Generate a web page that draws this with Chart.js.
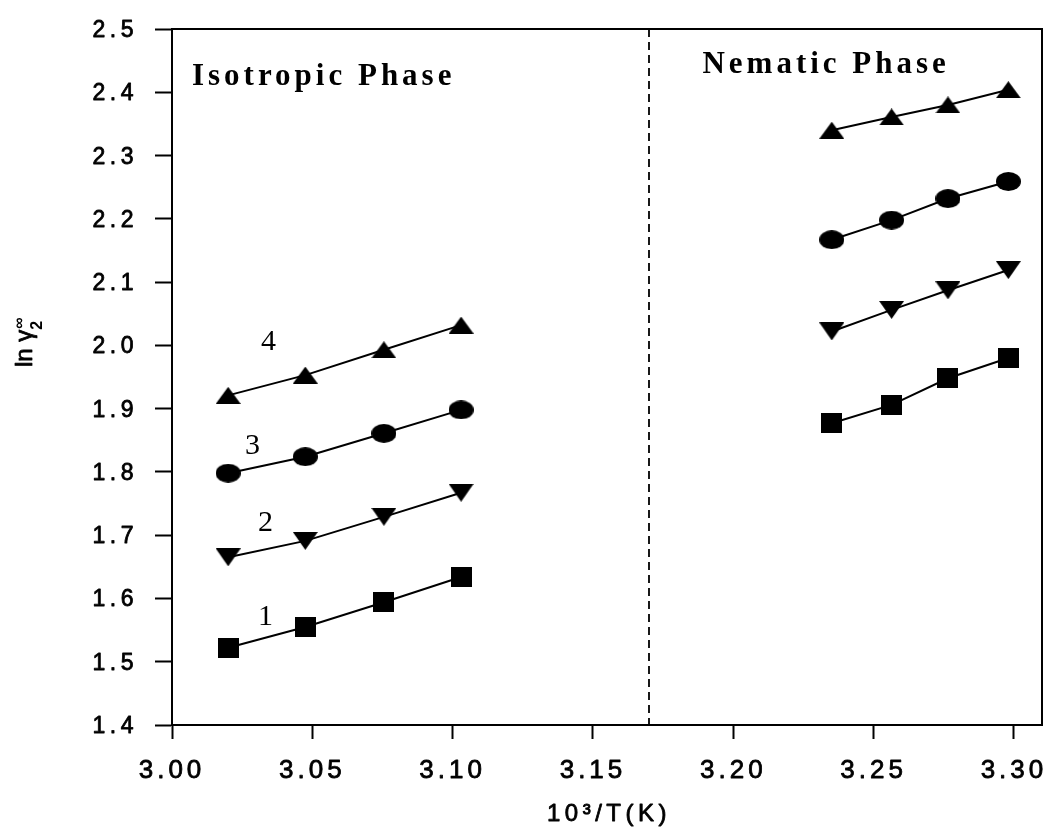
<!DOCTYPE html>
<html>
<head>
<meta charset="utf-8">
<script src="https://cdn.jsdelivr.net/npm/chart.js@4.4.1/dist/chart.umd.min.js"></script>
<style>
    html, body { margin: 0; padding: 0; background: #fff; }
    #wrap { width: 1052px; height: 832px; }
</style>
</head>
<body>
<div id="wrap"><canvas id="graph-canvas" width="1052" height="832"></canvas></div>
<script>
// 10^3/T values for the two phases
const xIsotropic = [3.020, 3.0475, 3.0755, 3.103];
const xNematic = [3.2351, 3.2564, 3.2765, 3.298];

// ln gamma2 (infinite dilution), isotropic then nematic, for solutes 1..4
const lnGamma1 = [1.522, 1.555, 1.594, 1.634, 1.877, 1.906, 1.948, 1.980];
const lnGamma2 = [1.665, 1.691, 1.729, 1.767, 2.022, 2.056, 2.087, 2.119];
const lnGamma3 = [1.798, 1.824, 1.861, 1.898, 2.167, 2.198, 2.232, 2.259];
const lnGamma4 = [1.921, 1.953, 1.993, 2.032, 2.340, 2.361, 2.380, 2.404];

const seriesNames = ['1', '2', '3', '4'];
const PHASE_BOUNDARY = 3.17;

const xTickValues = [3.00, 3.05, 3.10, 3.15, 3.20, 3.25, 3.30];
const xTickLabels = ['3.00', '3.05', '3.10', '3.15', '3.20', '3.25', '3.30'];
const yTickValues = [1.4, 1.5, 1.6, 1.7, 1.8, 1.9, 2.0, 2.1, 2.2, 2.3, 2.4, 2.5];
const yTickLabels = ['1.4', '1.5', '1.6', '1.7', '1.8', '1.9', '2.0', '2.1', '2.2', '2.3', '2.4', '2.5'];

const AXIS = {
    xMin: 3.00,
    xMax: 3.31,
    yMin: 1.4,
    yMax: 2.5,
};

// curve labels (centre) and phase captions (left baseline), in data coordinates
const curveLabels = [
    { text: '1', x: 3.0333, y: 1.5706 },
    { text: '2', x: 3.0333, y: 1.7192 },
    { text: '3', x: 3.0287, y: 1.8409 },
    { text: '4', x: 3.0344, y: 2.0053 },
];
const phaseLabels = [
    { text: 'Isotropic Phase', x: 3.0071, y: 2.4115 },
    { text: 'Nematic Phase', x: 3.1890, y: 2.4305 },
];

function buildData(values) {
    const pts = [];
    xIsotropic.forEach((x, i) => pts.push({ x: x, y: values[i] }));
    pts.push({ x: PHASE_BOUNDARY, y: null });
    xNematic.forEach((x, i) => pts.push({ x: x, y: values[i + 4] }));
    return pts;
}

// the scanned markers are a little wider than tall, so draw them as images
function makeMarker(shape, w, h) {
    const c = document.createElement('canvas');
    c.width = w;
    c.height = h;
    const g = c.getContext('2d');
    g.fillStyle = '#000';
    g.beginPath();
    if (shape === 'square') {
        g.rect(0, 0, w, h);
    } else if (shape === 'circle') {
        g.ellipse(w / 2, h / 2, w / 2, h / 2, 0, 0, Math.PI * 2);
    } else if (shape === 'up') {
        g.moveTo(w / 2, 0);
        g.lineTo(w, h);
        g.lineTo(0, h);
    } else {
        g.moveTo(0, 0);
        g.lineTo(w, 0);
        g.lineTo(w / 2, h);
    }
    g.closePath();
    g.fill();
    return c;
}

// scanned text is a bit heavier than regular weight
function heavyText(ctx, text, x, y) {
    ctx.fillText(text, x, y);
    ctx.strokeText(text, x, y);
}

const decorations = {
    id: 'decorations',
    afterDraw(chart) {
        const ctx = chart.ctx;
        const area = chart.chartArea;
        const xs = chart.scales.x;
        const ys = chart.scales.y;
        ctx.save();

        // box around the plot
        ctx.strokeStyle = '#000';
        ctx.lineWidth = 2;
        ctx.strokeRect(area.left, area.top, area.right - area.left, area.bottom - area.top);

        // phase boundary
        const bx = Math.round(xs.getPixelForValue(PHASE_BOUNDARY));
        ctx.lineWidth = 1.8;
        ctx.setLineDash([8, 5]);
        ctx.beginPath();
        ctx.moveTo(bx, area.top);
        ctx.lineTo(bx, area.bottom);
        ctx.stroke();
        ctx.setLineDash([]);

        ctx.fillStyle = '#000';
        ctx.lineWidth = 0.8;
        ctx.lineJoin = 'round';

        // tick labels
        ctx.font = '26px "Liberation Sans"';
        ctx.letterSpacing = '4px';
        ctx.textAlign = 'center';
        ctx.textBaseline = 'alphabetic';
        xTickValues.forEach((v, i) => {
            heavyText(ctx, xTickLabels[i], xs.getPixelForValue(v), area.bottom + 53);
        });
        ctx.font = '23px "Liberation Sans"';
        ctx.letterSpacing = '4.5px';
        ctx.textAlign = 'right';
        yTickValues.forEach((v, i) => {
            heavyText(ctx, yTickLabels[i], 138, ys.getPixelForValue(v) + 8);
        });

        // x axis title
        ctx.font = '24px "Liberation Sans"';
        ctx.letterSpacing = '4.5px';
        ctx.textAlign = 'center';
        heavyText(ctx, '10\u00b3/T(K)', (area.left + area.right) / 2 + 2, 821);

        // curve numbers
        ctx.letterSpacing = '0px';
        ctx.textBaseline = 'middle';
        ctx.font = '30px "Liberation Serif"';
        for (let lab of curveLabels) {
            ctx.fillText(lab.text, xs.getPixelForValue(lab.x), ys.getPixelForValue(lab.y));
        }

        // phase captions
        ctx.textAlign = 'left';
        ctx.textBaseline = 'alphabetic';
        ctx.font = 'bold 31px "Liberation Serif"';
        ctx.letterSpacing = '4px';
        for (let lab of phaseLabels) {
            ctx.fillText(lab.text, xs.getPixelForValue(lab.x), ys.getPixelForValue(lab.y));
        }
        ctx.letterSpacing = '0px';

        // y axis title: ln gamma with subscript 2 and superscript infinity
        ctx.translate(32, 367);
        ctx.rotate(-Math.PI / 2);
        ctx.font = '24px "Liberation Sans"';
        const main = 'ln \u03b3';
        const w = ctx.measureText(main).width;
        heavyText(ctx, main, 0, 0);
        ctx.font = 'bold 16px "Liberation Sans"';
        ctx.fillText('\u221e', w + 1, -8);
        ctx.fillText('2', w, 10);
        ctx.restore();
    }
};

document.addEventListener('DOMContentLoaded', function () {
    const graph = document.getElementById('graph-canvas').getContext('2d');
    const markers = [
        makeMarker('square', 21, 20),
        makeMarker('down', 25, 18),
        makeMarker('circle', 25, 19),
        makeMarker('up', 25, 17),
    ];
    const allSeries = [lnGamma1, lnGamma2, lnGamma3, lnGamma4];

    const datasets = allSeries.map((vals, i) => ({
        label: seriesNames[i],
        data: buildData(vals),
        borderColor: '#000',
        backgroundColor: '#000',
        borderWidth: 2,
        pointStyle: markers[i],
        pointRadius: 10,
        pointBorderWidth: 0,
        spanGaps: false,
        tension: 0,
        fill: false,
    }));

    new Chart(graph, {
        type: 'line',
        data: { datasets: datasets },
        options: {
            responsive: false,
            animation: false,
            maintainAspectRatio: false,
            layout: { padding: { top: 29, right: 7, left: 0, bottom: 0 } },
            plugins: {
                legend: { display: false },
                tooltip: { enabled: false },
            },
            scales: {
                x: {
                    type: 'linear',
                    min: AXIS.xMin,
                    max: AXIS.xMax,
                    afterFit: (scale) => { scale.height = 107; },
                    afterBuildTicks: (scale) => {
                        scale.ticks = xTickValues.map((v) => ({ value: v }));
                    },
                    border: { display: true, color: '#000', width: 2 },
                    grid: {
                        drawOnChartArea: false,
                        drawTicks: true,
                        tickLength: 14,
                        tickWidth: 2,
                        tickColor: '#000',
                    },
                    ticks: { display: false },
                },
                y: {
                    type: 'linear',
                    min: AXIS.yMin,
                    max: AXIS.yMax,
                    afterFit: (scale) => { scale.width = 172; },
                    afterBuildTicks: (scale) => {
                        scale.ticks = yTickValues.map((v) => ({ value: v }));
                    },
                    border: { display: true, color: '#000', width: 2 },
                    grid: {
                        drawOnChartArea: false,
                        drawTicks: true,
                        tickLength: 17,
                        tickWidth: 2,
                        tickColor: '#000',
                    },
                    ticks: { display: false },
                },
            },
        },
        plugins: [decorations],
    });
});
</script>
</body>
</html>
